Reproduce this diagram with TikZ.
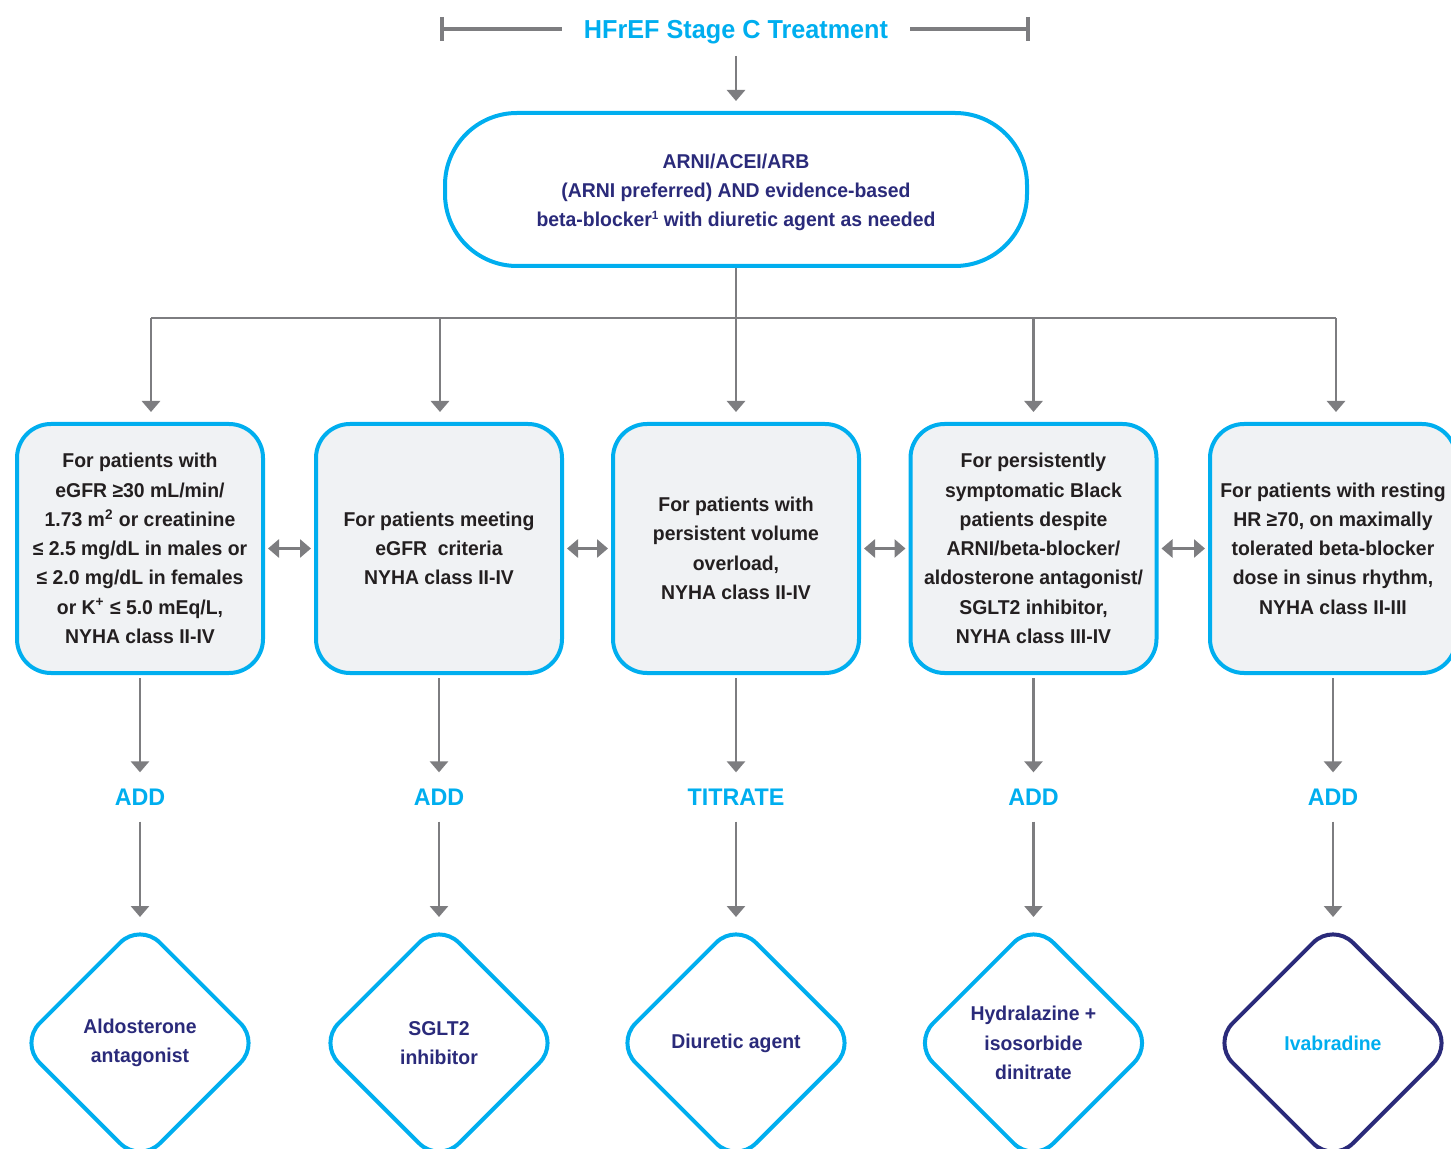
\documentclass[tikz,border=0pt]{standalone}
\usepackage{fontspec}
\setmainfont{Liberation Sans}[FakeStretch=0.97]
\usetikzlibrary{arrows.meta,shapes.geometric}
\definecolor{hfcyan}{HTML}{00AEEF}
\definecolor{hfnavy}{HTML}{2A2A7A}
\definecolor{hfgray}{HTML}{7D7D80}
\definecolor{hfink}{HTML}{231F20}
\definecolor{hffill}{HTML}{F0F2F4}

\begin{document}
\begin{tikzpicture}[x=0.5pt,y=-0.5pt,
	txt/.style={font=\bfseries\fontsize{10}{14.65}\selectfont,align=center},
	pill/.style={txt,draw=hfcyan,line width=2pt,rounded corners=36pt,minimum width=291pt,minimum height=76.5pt,text=hfnavy},
	card/.style={txt,draw=hfcyan,fill=hffill,line width=2pt,rounded corners=17pt,minimum width=123pt,minimum height=124.5pt,inner sep=0pt,text=hfink},
	gem/.style={txt,diamond,draw=hfcyan,line width=2pt,rounded corners=14pt,minimum width=121pt,minimum height=121pt,inner sep=0pt,text=hfnavy},
	act/.style={font=\bfseries\fontsize{12}{14}\selectfont,text=hfcyan,inner sep=8pt},
	arr/.style={draw=hfgray,line width=1.4pt,-{Triangle[width=9pt,length=5.5pt]}},
	darr/.style={arr,{Triangle[width=9pt,length=5.5pt]}-{Triangle[width=9pt,length=5.5pt]}}]

	\useasboundingbox (0,0) rectangle (1451,1149);

	\node[font=\bfseries\fontsize{13}{15}\selectfont,text=hfcyan] (title) at (736,32) {HFrEF Stage C Treatment};
	\draw[hfgray,line width=2pt] (442,17) -- (442,41) (442,29) -- (562,29);
	\draw[hfgray,line width=2pt] (910,29) -- (1028,29) (1028,17) -- (1028,41);

	\node[pill] (top) at (736,189.5) {\rule{0pt}{10pt}ARNI/ACEI/ARB\\(ARNI preferred) AND evidence-based\\beta-blocker{\fontsize{6}{6}\selectfont\raisebox{3.5pt}{1}} with diuretic agent as needed};
	\draw[arr,shorten <=2.5pt,shorten >=5pt] (title) -- (top);

	\node[card] (b1) at (140,548.5) {For patients with\\eGFR ≥30 mL/min/\\1.73 m\textsuperscript{2} or creatinine\\≤ 2.5 mg/dL in males or\\≤ 2.0 mg/dL in females\\or K\textsuperscript{+} ≤ 5.0 mEq/L,\\NYHA class II-IV};
	\node[card] (b2) at (439,548.5) {For patients meeting\\eGFR~ criteria\\NYHA class II-IV};
	\node[card] (b3) at (736,548.5) {For patients with\\persistent volume\\overload,\\NYHA class II-IV};
	\node[card] (b4) at (1033.5,548.5) {For persistently\\symptomatic Black\\patients despite\\ARNI/beta-blocker/\\aldosterone antagonist/\\SGLT2 inhibitor,\\NYHA class III-IV};
	\node[card] (b5) at (1333,548.5) {For patients with resting\\HR ≥70, on maximally\\tolerated beta-blocker\\dose in sinus rhythm,\\NYHA class II-III};

	\coordinate (hub) at (736,318);
	\coordinate (j1) at (151,318);
	\coordinate (j2) at (440,318);
	\coordinate (j3) at (736,318);
	\coordinate (j4) at (1033.5,318);
	\coordinate (j5) at (1336,318);
	\draw[hfgray,line width=1.4pt] (top) -- (hub);
	\draw[hfgray,line width=1.4pt] (j1) -- (j5);

	\node[act] (l1) at (140,797) {ADD};
	\node[act] (l2) at (439,797) {ADD};
	\node[act] (l3) at (736,797) {TITRATE};
	\node[act] (l4) at (1033.5,797) {ADD};
	\node[act] (l5) at (1333,797) {ADD};

	\node[gem] (d1) at (140,1043) {Aldosterone\\antagonist};
	\node[gem] (d2) at (439,1043) {SGLT2\\inhibitor};
	\node[gem] (d3) at (736,1043) {Diuretic agent};
	\node[gem] (d4) at (1033.5,1043) {Hydralazine +\\isosorbide\\dinitrate};
	\node[gem,draw=hfnavy,text=hfcyan] (d5) at (1333,1043) {Ivabradine};

	\foreach \i in {1,...,5} {
		\draw[arr,shorten >=5pt] (j\i) -- (j\i |- b\i.north);
		\draw[arr,shorten <=1.5pt] (b\i) -- (l\i);
		\draw[arr,shorten >=1.5pt] (l\i) -- (d\i);
	}
	\foreach \i/\k in {1/2,2/3,3/4,4/5}
		\draw[darr,shorten <=1.5pt,shorten >=1.5pt] (b\i) -- (b\k);

\end{tikzpicture}
\end{document}
